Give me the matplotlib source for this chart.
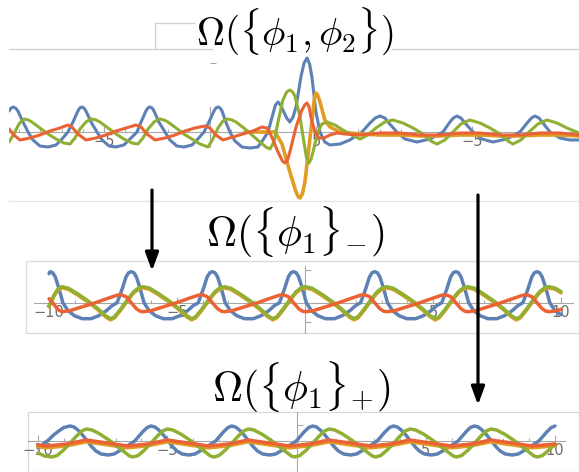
import matplotlib
matplotlib.use("Agg")
import matplotlib.pyplot as plt
import matplotlib.transforms as mtransforms
from matplotlib.patches import FancyArrowPatch, Rectangle
from matplotlib.lines import Line2D

plt.rcParams['mathtext.fontset'] = 'cm'
plt.rcParams['font.family'] = ['DejaVu Sans']

# ---------------- data ----------------
BLUE, ORANGE, GREEN, RED = '#5E81B5', '#E19C24', '#8FB032', '#EB6235'

titles = [r'$\Omega(\{\phi_1,\phi_2\})$', r'$\Omega(\{\phi_1\}{}_{-})$', r'$\Omega(\{\phi_1\}{}_{+})$']

# Panel 1 (top)
p1_ticks = [-5, 5, 12.36]
p1_ticklabels = ['\u22125', '5', '\u22125']
p1_blue_x = [-9.48, -9.40, -9.29, -9.17, -9.06, -8.82, -8.58, -8.35, -8.02, -7.64, -7.26, -6.98, -6.70, -6.46,
             -6.23, -6.14, -6.04, -5.94, -5.85, -5.61, -5.33, -5.09, -4.76, -4.43, -4.06, -3.77, -3.44, -3.25,
             -3.02, -2.93, -2.83, -2.73, -2.64, -2.41, -2.12, -1.89, -1.56, -1.23, -0.85, -0.57, -0.28, -0.05,
             0.19, 0.28, 0.38, 0.48, 0.57, 0.75, 0.94, 1.18, 1.51, 1.89, 2.26, 2.50, 2.74, 2.97, 3.09, 3.21,
             3.33, 3.44, 3.62, 3.77, 3.92, 4.06, 4.29, 4.44, 4.58, 4.70, 4.81, 5.00, 5.19, 5.42, 5.66, 6.13,
             6.60, 7.17, 7.55, 7.80, 8.02, 8.25, 8.44, 8.82, 9.20, 9.76, 10.38, 10.99, 11.32, 11.48, 11.65,
             11.84, 12.03, 12.41, 12.83, 13.35, 14.01, 14.62, 15.00, 15.17, 15.33, 15.52, 15.71, 16.04,
             16.51, 16.98, 17.41]
p1_blue_y = [21, 23.5, 25, 24, 21, 10, 0, -8, -14, -15, -13, -7, 0, 10,
             21, 24, 25, 24, 21, 10, 0, -8, -14, -15, -13, -7, 0, 10,
             21, 24, 25, 24, 21, 10, 0, -8, -14, -15, -13, -7, 0, 10,
             21, 24, 25, 24, 21, 10, 0, -9, -15, -16, -15, -8, 0, 18, 27, 30,
             27, 22, 14, 10, 15, 25, 55, 69, 74, 68, 55, 20, 0, -10, -13, -12,
             -8, 0, 9, 14, 16, 14, 9, 0, -7, -10, -7, 0, 10, 14, 16,
             14, 9, 0, -7, -10, -7, 0, 10, 14, 16, 14, 9, 0,
             -6, -8, -8]
p1_green_x = [-9.48, -9.25, -9.01, -8.86, -8.73, -8.57, -8.40, -8.02, -7.64, -7.26, -6.89, -6.60, -6.37, -6.13,
              -5.85, -5.70, -5.57, -5.38, -5.19, -4.81, -4.43, -4.06, -3.68, -3.40, -3.16, -2.92, -2.64,
              -2.49, -2.36, -2.17, -1.98, -1.60, -1.23, -0.85, -0.47, -0.09, 0.14, 0.38, 0.61, 0.74, 0.85,
              1.04, 1.23, 1.60, 1.98, 2.36, 2.64, 2.83, 3.02, 3.21, 3.44, 3.62, 3.77, 3.90, 4.01, 4.25, 4.43,
              4.56, 4.67, 4.77, 4.86, 5.09, 5.28, 5.52, 5.90, 6.27, 6.60, 7.08, 7.45, 7.83, 8.25, 8.63, 9.10,
              9.58, 10.05, 10.42, 10.71, 11.08, 11.46, 11.84, 12.26, 12.74, 13.21, 13.68, 14.06, 14.29,
              14.67, 15.05, 15.47, 15.90, 16.37, 16.84, 17.41]
p1_green_y = [-10, -2, 8, 11.5, 13, 12, 10, 4, -2, -7, -11, -12, -6, 3,
              10, 12, 13, 12, 10, 4, -2, -7, -11, -12, -6, 3, 10,
              12, 13, 12, 10, 4, -2, -7, -12, -15, -7, 4, 11, 12.5, 13,
              12, 10, 4, -3, -10, -15, -17, -10, 10, 32, 40, 42, 40, 36, 15, -10,
              -26, -31, -27, -20, 0, 8, 10, 7, 2, -2, -7, -3, 4, 10, 12, 9,
              4, -2, -9, -12, -8, 0, 8, 12, 9, 4, -2, -9, -12,
              -8, 0, 8, 12, 9, 4, -1]
p1_red_x = [-9.48, -9.25, -8.96, -8.49, -8.02, -7.55, -7.08, -6.70, -6.51, -6.23, -5.85, -5.38, -4.91,
            -4.43, -3.96, -3.49, -3.25, -2.97, -2.59, -2.12, -1.65, -1.18, -0.71, -0.24, 0.00,
            0.28, 0.61, 1.08, 1.56, 2.03, 2.45, 2.69, 2.92, 3.21, 3.42, 3.54, 3.66, 3.77, 4.06, 4.34,
            4.47, 4.58, 4.68, 4.76, 4.95, 5.14, 5.38, 5.66, 5.99, 6.37, 7.08, 8.02, 8.96, 9.91, 10.85,
            11.79, 12.74, 13.68, 14.62, 15.57, 16.51, 17.41]
p1_red_y = [3, -3, -8, -6, -3, 1, 4, 7, 5, -2, -8, -6, -3,
            1, 4, 7, 5, -2, -8, -6, -3, 1, 4, 6, 4,
            -3, -8, -5, -2, 1, 5, 4, -5, -20, -29, -31, -28, -20, 5, 22,
            27, 29, 25, 15, 0, -6, -6, -3, -1, -2, -3, -1, -1, -3, -3,
            -1, -1, -3, -3, -1, -1, -3]
p1_orange_x = [1.65, 2.59, 3.07, 3.40, 3.77, 4.06, 4.17, 4.25, 4.36, 4.48, 4.67, 4.86, 4.93, 5.00,
               5.08, 5.19, 5.42, 5.66, 6.13, 7.08, 8.02, 8.96, 9.91, 10.85, 11.79, 12.74, 13.68, 14.62,
               15.57, 16.51, 17.41]
p1_orange_y = [0, 0, 0, -12, -40, -60, -65, -66, -62, -50, -15, 20, 34, 39,
               37, 30, 12, 5, 0, -2, -3, -3, -4, -4, -3, -3, -4, -4,
               -3, -3, -4]

# Panel 2 (middle)
p2_ticks = [-10, -5, 5, 10]
p2_ticklabels = ['\u221210', '\u22125', '5', '10']
p2_blue_x = [-10.0,
             -9.96, -9.86, -9.76, -9.61, -9.46, -9.26, -9.01, -8.71, -8.36, -8.06, -7.76, -7.54, -7.34, -7.14, -6.99, -6.89,
             -6.79, -6.69, -6.59, -6.44, -6.29, -6.09, -5.84, -5.54, -5.19, -4.89, -4.59, -4.37, -4.17, -3.97, -3.82, -3.72,
             -3.62, -3.52, -3.42, -3.27, -3.12, -2.92, -2.67, -2.37, -2.02, -1.72, -1.42, -1.20, -1.00, -0.80, -0.65, -0.55,
             -0.45, -0.35, -0.25, -0.10, 0.05, 0.25, 0.50, 0.80, 1.15, 1.45, 1.75, 1.97, 2.17, 2.37, 2.52, 2.62,
             2.72, 2.82, 2.92, 3.07, 3.22, 3.42, 3.67, 3.97, 4.32, 4.62, 4.92, 5.14, 5.34, 5.54, 5.69, 5.79,
             5.89, 5.99, 6.09, 6.24, 6.39, 6.59, 6.84, 7.14, 7.49, 7.79, 8.09, 8.31, 8.51, 8.71, 8.86, 8.96,
             9.06, 9.16, 9.26, 9.41, 9.56, 9.76, 10.0]
p2_blue_y = [29,
             31, 30, 26, 14, 0, -8, -13, -16, -16, -13, -8, -3, 0, 14, 26, 30,
             31, 30, 26, 14, 0, -8, -13, -16, -16, -13, -8, -3, 0, 14, 26, 30,
             31, 30, 26, 14, 0, -8, -13, -16, -16, -13, -8, -3, 0, 14, 26, 30,
             31, 30, 26, 14, 0, -8, -13, -16, -16, -13, -8, -3, 0, 14, 26, 30,
             31, 30, 26, 14, 0, -8, -13, -16, -16, -13, -8, -3, 0, 14, 26, 30,
             31, 30, 26, 14, 0, -8, -13, -16, -16, -13, -8, -3, 0, 14, 26, 30,
             31, 30, 26, 14, 0, -8, -12]
p2_green_x = [-10.0, -9.8, -9.65,
              -9.49, -9.24, -8.89, -8.49, -8.09, -7.79, -7.60, -7.44, -7.19, -6.94, -6.69, -6.49,
              -6.32, -6.07, -5.72, -5.32, -4.92, -4.62, -4.43, -4.27, -4.02, -3.77, -3.52, -3.32,
              -3.15, -2.90, -2.55, -2.15, -1.75, -1.45, -1.26, -1.10, -0.85, -0.60, -0.35, -0.15,
              0.02, 0.27, 0.62, 1.02, 1.42, 1.72, 1.91, 2.07, 2.32, 2.57, 2.82, 3.02,
              3.19, 3.44, 3.79, 4.19, 4.59, 4.89, 5.08, 5.24, 5.49, 5.74, 5.99, 6.19,
              6.36, 6.61, 6.96, 7.36, 7.76, 8.06, 8.25, 8.41, 8.66, 8.91, 9.16, 9.36,
              9.53, 9.78, 10.0]
p2_green_y = [-3, 8, 14,
              16, 14.5, 9, 2, -6, -13, -16, -14, -6, 3, 11, 15,
              16, 14.5, 9, 2, -6, -13, -16, -14, -6, 3, 11, 15,
              16, 14.5, 9, 2, -6, -13, -16, -14, -6, 3, 11, 15,
              16, 14.5, 9, 2, -6, -13, -16, -14, -6, 3, 11, 15,
              16, 14.5, 9, 2, -6, -13, -16, -14, -6, 3, 11, 15,
              16, 14.5, 9, 2, -6, -13, -16, -14, -6, 3, 11, 15,
              16, 14.5, 11]
p2_orange_x = p2_green_x   # hidden under green, visible only as a thin edge
p2_orange_y = p2_green_y
p2_red_x = [-10.0, -9.8, -9.65,
            -9.49, -9.19, -8.69, -8.19, -7.69, -7.34, -7.19, -6.99, -6.79, -6.59, -6.44,
            -6.32, -6.02, -5.52, -5.02, -4.52, -4.17, -4.02, -3.82, -3.62, -3.42, -3.27,
            -3.15, -2.85, -2.35, -1.85, -1.35, -1.00, -0.85, -0.65, -0.45, -0.25, -0.10,
            0.02, 0.32, 0.82, 1.32, 1.82, 2.17, 2.32, 2.52, 2.72, 2.92, 3.07,
            3.19, 3.49, 3.99, 4.49, 4.99, 5.34, 5.49, 5.69, 5.89, 6.09, 6.24,
            6.36, 6.66, 7.16, 7.66, 8.16, 8.51, 8.66, 8.86, 9.06, 9.26, 9.41,
            9.53, 9.83, 10.0]
p2_red_y = [4, -2, -7,
            -9, -8, -4, 0, 4.5, 7.5, 8, 6, 0, -6, -8.5,
            -9, -8, -4, 0, 4.5, 7.5, 8, 6, 0, -6, -8.5,
            -9, -8, -4, 0, 4.5, 7.5, 8, 6, 0, -6, -8.5,
            -9, -8, -4, 0, 4.5, 7.5, 8, 6, 0, -6, -8.5,
            -9, -8, -4, 0, 4.5, 7.5, 8, 6, 0, -6, -8.5,
            -9, -8, -4, 0, 4.5, 7.5, 8, 6, 0, -6, -8.5,
            -9, -8, -6.5]

# Panel 3 (bottom)
p3_ticks = [-10, -5, 5, 10]
p3_ticklabels = ['\u221210', '\u22125', '5', '10']
p3_blue_x = [-10.0, -9.8, -9.6, -9.4, -9.2, -9.0,
             -8.76, -8.61, -8.46, -8.28, -8.10, -7.93, -7.76, -7.56, -7.29, -7.06, -6.86, -6.56, -6.26, -6.11, -5.96, -5.78,
             -5.63, -5.48, -5.33, -5.15, -4.97, -4.80, -4.63, -4.43, -4.16, -3.93, -3.73, -3.43, -3.13, -2.98, -2.83, -2.65,
             -2.51, -2.36, -2.21, -2.03, -1.85, -1.68, -1.51, -1.31, -1.04, -0.81, -0.61, -0.31, -0.01, 0.14, 0.29, 0.47,
             0.62, 0.77, 0.92, 1.10, 1.28, 1.45, 1.62, 1.82, 2.09, 2.32, 2.52, 2.82, 3.12, 3.27, 3.42, 3.60,
             3.75, 3.90, 4.05, 4.23, 4.41, 4.58, 4.75, 4.95, 5.22, 5.45, 5.65, 5.95, 6.25, 6.40, 6.55, 6.73,
             6.88, 7.03, 7.18, 7.36, 7.54, 7.71, 7.88, 8.08, 8.35, 8.58, 8.78, 9.08, 9.38, 9.53, 9.68, 9.86,
             10.0]
p3_blue_y = [-7, -3, 1, 6, 10, 13.5,
             15, 14, 11, 6, 0, -5.5, -10, -13, -14, -13, -10, -5, 0, 4.5, 9, 13.5,
             15, 14, 11, 6, 0, -5.5, -10, -13, -14, -13, -10, -5, 0, 4.5, 9, 13.5,
             15, 14, 11, 6, 0, -5.5, -10, -13, -14, -13, -10, -5, 0, 4.5, 9, 13.5,
             15, 14, 11, 6, 0, -5.5, -10, -13, -14, -13, -10, -5, 0, 4.5, 9, 13.5,
             15, 14, 11, 6, 0, -5.5, -10, -13, -14, -13, -10, -5, 0, 4.5, 9, 13.5,
             15, 14, 11, 6, 0, -5.5, -10, -13, -14, -13, -10, -5, 0, 4.5, 9, 13.5,
             15]
p3_green_x = [-10.0, -9.75,
              -9.46, -9.26, -9.01, -8.76, -8.51, -8.31, -8.13, -7.91, -7.61, -7.26, -6.96, -6.66, -6.46,
              -6.33, -6.13, -5.88, -5.63, -5.38, -5.18, -5.00, -4.78, -4.48, -4.13, -3.83, -3.53, -3.33,
              -3.20, -3.00, -2.75, -2.50, -2.25, -2.05, -1.87, -1.65, -1.35, -1.00, -0.70, -0.40, -0.20,
              -0.07, 0.13, 0.38, 0.63, 0.88, 1.08, 1.26, 1.48, 1.78, 2.13, 2.43, 2.73, 2.93,
              3.06, 3.26, 3.51, 3.76, 4.01, 4.21, 4.39, 4.61, 4.91, 5.26, 5.56, 5.86, 6.06,
              6.19, 6.39, 6.64, 6.89, 7.14, 7.34, 7.52, 7.74, 8.04, 8.39, 8.69, 8.99, 9.19,
              9.32, 9.52, 9.77, 10.0]
p3_green_y = [-12, -15,
              -16, -14.5, -9, -2, 5, 10, 12, 11, 7, 1, -5, -11, -15,
              -16, -14.5, -9, -2, 5, 10, 12, 11, 7, 1, -5, -11, -15,
              -16, -14.5, -9, -2, 5, 10, 12, 11, 7, 1, -5, -11, -15,
              -16, -14.5, -9, -2, 5, 10, 12, 11, 7, 1, -5, -11, -15,
              -16, -14.5, -9, -2, 5, 10, 12, 11, 7, 1, -5, -11, -15,
              -16, -14.5, -9, -2, 5, 10, 12, 11, 7, 1, -5, -11, -15,
              -16, -14.5, -9, -3]
p3_red_x = [-10.0, -9.66, -8.89, -8.13, -7.33, -6.53, -5.76, -5.00, -4.20, -3.40, -2.63, -1.87, -1.07,
            -0.27, 0.50, 1.26, 2.06, 2.86, 3.63, 4.39, 5.19, 5.99, 6.76, 7.52, 8.32, 9.12, 10.0]
p3_red_y = [-4, -5, -3, 1, -2, -5, -3, 1, -2, -5, -3, 1, -2,
            -5, -3, 1, -2, -5, -3, 1, -2, -5, -3, 1, -2, -5, -3]
p3_orange_x = p3_red_x
p3_orange_y = [-5.5, -6.5, -4.5, -0.5, -3.5, -6.5, -4.5, -0.5, -3.5, -6.5, -4.5, -0.5, -3.5,
               -6.5, -4.5, -0.5, -3.5, -6.5, -4.5, -0.5, -3.5, -6.5, -4.5, -0.5, -3.5, -6.5, -4.5]

# ---------------- layout ----------------
W, H = 579, 472
fig = plt.figure(figsize=(W / 100, H / 100), dpi=100)
fig.patch.set_facecolor('white')


def rect(x0, y0, x1, y1):
    return [x0 / W, 1 - y1 / H, (x1 - x0) / W, (y1 - y0) / H]


AX_COL = '#A8A8A8'


def setup(ax, xlim, ylim, xb, yb, ticks, labels, minors, yticks):
    ax.set_xlim(*xlim)
    ax.set_ylim(*ylim)
    ax.patch.set_alpha(0)
    for s in ('top', 'right'):
        ax.spines[s].set_visible(False)
    ax.spines['bottom'].set_position(('data', 0))
    ax.spines['left'].set_position(('data', 0))
    ax.spines['bottom'].set_bounds(*xb)
    ax.spines['left'].set_bounds(*yb)
    for s in ('bottom', 'left'):
        ax.spines[s].set_color(AX_COL)
        ax.spines[s].set_linewidth(0.8)
    ax.set_xticks(ticks)
    ax.set_xticklabels(labels)
    ax.set_xticks(minors, minor=True)
    ax.set_yticks(yticks)
    ax.set_yticklabels([])
    ax.tick_params(axis='x', which='major', direction='in', length=4, width=0.8,
                   color=AX_COL, labelsize=10.5, labelcolor='#6E6E6E', pad=1.5)
    ax.tick_params(axis='x', which='minor', direction='in', length=2.5, width=0.7, color=AX_COL)
    ax.tick_params(axis='y', which='major', direction='in', length=4, width=0.8, color=AX_COL)
    ax.tick_params(axis='y', which='minor', left=False)


def curve(ax, x, y, color, lw, z, **kw):
    ax.plot(x, y, color=color, lw=lw, zorder=z, solid_joinstyle='round',
            solid_capstyle='round', **kw)


MINORS = [-9, -8, -7, -6, -4, -3, -2, -1, 1, 2, 3, 4, 6, 7, 8, 9]

# Panel 1
ax1 = fig.add_axes(rect(9, 49, 579, 201))
setup(ax1, (-9.48, 17.41), (-69, 83), (-9.48, 17.41), (-15, 25),
      p1_ticks, p1_ticklabels, MINORS, [69])
lw1 = 2.2
curve(ax1, p1_blue_x, p1_blue_y, BLUE, lw1, 3)
curve(ax1, p1_orange_x, p1_orange_y, ORANGE, lw1 + 0.4, 4)
curve(ax1, p1_green_x, p1_green_y, GREEN, lw1, 5)
curve(ax1, p1_red_x, p1_red_y, RED, lw1, 6)

# Panel 2
fig.add_artist(Rectangle((26 / W, 1 - 333 / H), (579 - 26) / W, (333 - 261) / H,
                         transform=fig.transFigure, fill=False, ec='#DADADA', lw=0.9, zorder=0))
ax2 = fig.add_axes(rect(26, 261, 579, 333))
setup(ax2, (-10.90, 10.70), (-30.3, 41.7), (-10.59, 10.47), (-30.3, 37),
      p2_ticks, p2_ticklabels, MINORS, [33, -19])
lw2 = 2.5
off = mtransforms.offset_copy(ax2.transData, fig=fig, x=0, y=-1.2, units='dots')
curve(ax2, p2_blue_x, p2_blue_y, BLUE, lw2, 3)
curve(ax2, p2_orange_x, p2_orange_y, ORANGE, lw2, 4, transform=off)
curve(ax2, p2_green_x, p2_green_y, GREEN, lw2, 5)
curve(ax2, p2_red_x, p2_red_y, RED, lw2, 6)

# Panel 3
fig.add_artist(Rectangle((28 / W, 0), (579 - 28) / W, (472 - 412) / H,
                         transform=fig.transFigure, fill=False, ec='#DADADA', lw=0.9, zorder=0))
ax3 = fig.add_axes(rect(28, 412, 579, 472))
setup(ax3, (-10.39, 10.93), (-31, 29), (-10.39, 10.39), (-31, 29),
      p3_ticks, p3_ticklabels, MINORS, [16])
lw3 = 2.5
curve(ax3, p3_blue_x, p3_blue_y, BLUE, lw3, 3)
curve(ax3, p3_orange_x, p3_orange_y, ORANGE, lw3 + 0.5, 4)
curve(ax3, p3_green_x, p3_green_y, GREEN, lw3, 5)
curve(ax3, p3_red_x, p3_red_y, RED, lw3, 6)


# Frame lines of the top panel
def fline(x0, y0, x1, y1, col='#CFCFCF'):
    fig.add_artist(Line2D([x0 / W, x1 / W], [1 - y0 / H, 1 - y1 / H], transform=fig.transFigure,
                          color=col, lw=0.9, zorder=0))


fline(9, 49, 212, 49)
fline(392, 49, 579, 49)
fline(155, 23, 194, 23)
fline(155, 23, 155, 49)
fline(9, 201, 579, 201, '#E4E4E4')

# Titles
fig.text(295 / W, 1 - 31 / H, titles[0], ha='center', va='center', fontsize=28, color='black')
fig.text(295 / W, 1 - 232 / H, titles[1], ha='center', va='center', fontsize=30, color='black')
fig.text(301 / W, 1 - 387 / H, titles[2], ha='center', va='center', fontsize=30, color='black')

# Arrows
for (x, y0, y1) in [(152, 190, 271), (478, 195, 405)]:
    fig.add_artist(FancyArrowPatch((x / W, 1 - y0 / H), (x / W, 1 - y1 / H), transform=fig.transFigure,
                                   arrowstyle='-|>,head_length=0.55,head_width=0.2', mutation_scale=20,
                                   lw=2.3, color='black', shrinkA=0, shrinkB=0, zorder=20))

fig.savefig('out.png', dpi=100, facecolor='white')
